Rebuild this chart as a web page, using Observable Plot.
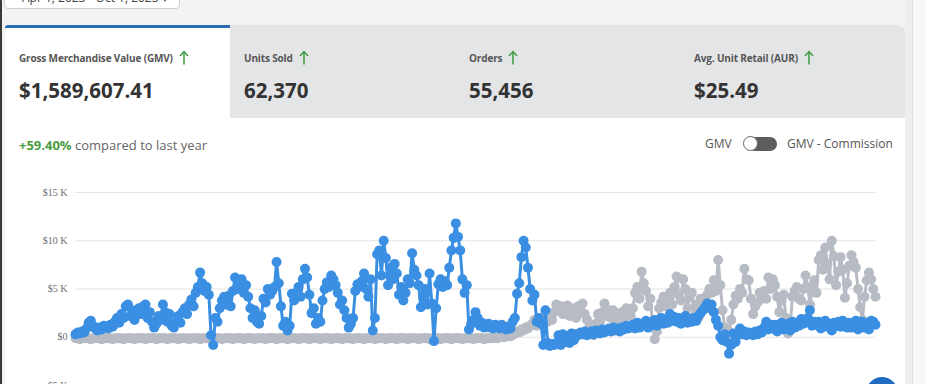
<!DOCTYPE html>
<html><head><meta charset="utf-8">
<script src="https://cdn.jsdelivr.net/npm/d3@7"></script>
<script src="https://cdn.jsdelivr.net/npm/@observablehq/plot@0.6"></script>
<style>
html,body{margin:0;padding:0;width:926px;height:384px;overflow:hidden;background:#f3f3f4;font-family:"Open Sans",sans-serif;}
#root{position:relative;width:926px;height:384px;overflow:hidden;}
.abs{position:absolute;white-space:nowrap;line-height:1;}
.lbl{font-size:10px;font-weight:700;color:#565656;letter-spacing:-0.15px;}
.val{font-size:20.5px;font-weight:700;color:#333;}
.arr{display:inline-block;vertical-align:-3px;margin-left:6px;}
#chart svg{position:absolute;left:0;top:170px;}
</style></head><body>
<div id="root">
  <div class="abs" style="left:0;top:0;width:2px;height:384px;background:#3a3a3a"></div>
  <div class="abs" style="left:4px;top:-12px;width:174px;height:19px;border:1px solid #d0d0d0;border-radius:4px;background:#fff"></div>
  <div class="abs" style="left:22px;top:-8px;font-size:12px;color:#444">Apr 1, 2023 - Oct 1, 2023 ▾</div>

  <div class="abs" style="left:5px;top:25px;width:900px;height:380px;background:#fff;border-radius:8px 8px 0 0"></div>
  <div class="abs" style="left:230px;top:25px;width:675px;height:93px;background:#e4e5e7;border-radius:0 8px 0 0"></div>
  <div class="abs" style="left:5px;top:25px;width:225px;height:3px;background:#2a6db5;border-radius:8px 0 0 0"></div>
  <div class="abs" style="left:905px;top:0;width:21px;height:384px;background:#eeeeef"></div>
  <div class="abs" style="left:912px;top:0;width:14px;height:384px;background:#f8f8f8;border-left:1px solid #e2e2e2"></div>

  <div id="tabs"></div>

  <div class="abs" style="left:19px;top:139px;font-size:13px;color:#666"><span style="color:#4b9b3f;font-weight:700">+59.40%</span> compared to last year</div>

  <div class="abs" style="left:705px;top:138px;font-size:12px;color:#555">GMV</div>
  <div class="abs" style="left:748px;top:137px;width:29px;height:14px;background:#5d5d5f;border-radius:7px"></div>
  <div class="abs" style="left:743px;top:136px;width:13px;height:13px;background:#fff;border:1.5px solid #666;border-radius:50%"></div>
  <div class="abs" style="left:787px;top:138px;font-size:12px;color:#555">GMV - Commission</div>

  <div id="chart"></div>
  <div class="abs" style="left:866px;top:377px;width:32px;height:32px;background:#1d6cc2;border-radius:50%"></div>
</div>
<script>
// KPI tabs
const tabLabels = ["Gross Merchandise Value (GMV)", "Units Sold", "Orders", "Avg. Unit Retail (AUR)"];
const tabValues = ["$1,589,607.41", "62,370", "55,456", "$25.49"];

// y axis
const yTicks = [-5000, 0, 5000, 10000, 15000];
const yTickLabels = ["-$5 K", "$0", "$5 K", "$10 K", "$15 K"];

// GMV, thousands of dollars (current period, blue)
const currentK = [
 0.3,0.5,0.4,0.6,0.5, 0.9,1.5,1.7,1.2,0.9,
 0.7,1.0,0.8,1.2,1.1, 0.9,1.3,1.1,1.6,2.0,
 1.5,2.4,2.0,3.2,3.4, 2.2,2.8,1.8,2.6,3.0,
 2.4,3.2,3.4,2.0,2.6, 1.6,1.0,1.4,2.2,1.8,
 3.4,2.6,1.6,2.4,1.2, 1.0,1.6,2.2,1.5,2.6,
 3.0,2.4,3.4,3.9,3.2, 4.6,5.2,6.7,5.6,4.8,
 5.2,4.4,0.2,-0.8,2.0, 1.6,3.0,3.8,4.2,3.4,
 4.3,3.2,4.8,6.2,5.0, 5.8,6.0,4.6,5.4,4.2,
 3.0,2.0,2.8,1.6,1.4, 2.2,4.0,3.6,5.0,4.4,
 4.8,5.2,7.8,5.6,3.2, 1.2,1.6,0.7,1.2,4.5,
 3.8,4.6,5.2,4.2,6.0, 7.1,6.2,4.4,2.5,3.0,
 1.4,2.0,1.6,3.8,5.0, 5.7,5.2,6.4,6.0,5.4,
 4.6,3.4,3.8,2.8,2.0, 1.0,1.4,2.0,4.8,5.5,
 5.2,5.8,6.6,5.0,4.2, 6.0,0.7,2.0,8.6,9.0,
 6.4,10.0,8.2,5.4,7.2, 6.0,7.6,6.6,4.4,5.2,
 3.8,4.6,6.0,5.6,8.7, 7.0,6.4,5.4,3.1,4.2,
 5.0,3.4,6.6,3.5,-0.4, 3.0,5.5,6.0,5.2,5.8,
 5.4,7.2,9.0,10.3,11.8, 10.4,9.0,6.0,4.6,5.4,
 0.8,1.4,1.8,2.6,2.0, 1.2,1.5,1.0,1.3,1.4,
 1.0,0.9,1.3,1.2,0.9, 1.3,1.0,0.8,1.1,0.9,
 1.6,2.0,4.5,5.6,8.3, 10.0,9.3,7.2,5.0,3.8,
 4.4,1.6,2.0,1.4,-0.8, 2.8,-0.6,-0.9,-0.7,-0.8,
 -0.6,0.2,-0.8,0.3,-0.5, 0.1,-0.6,0.4,-0.3,0.3,
 0.2,0.5,0.3,0.6,0.2, 0.4,0.6,0.3,0.7,0.5,
 0.4,0.8,0.5,0.7,0.9, 0.6,1.0,0.7,0.9,0.6,
 1.0,0.8,1.2,0.9,1.1, 1.3,0.9,1.5,1.0,1.4,
 1.2,1.7,1.0,1.5,1.3, 1.8,1.2,1.6,2.0,1.4,
 1.9,1.5,2.4,1.7,2.1, 1.6,2.0,1.4,1.8,2.2,
 1.5,1.9,1.6,2.0,1.7, 2.2,2.5,2.8,3.1,3.5,
 3.0,3.4,2.6,1.8,1.2, 0.0,-0.3,0.3,-0.5,-1.7,
 -0.8,0.4,-0.5,0.2,0.9, 0.3,0.6,0.2,0.5,0.4,
 0.2,0.6,0.3,0.7,0.5, 1.0,1.6,0.8,1.3,0.9,
 1.3,0.6,1.1,1.5,0.8, 1.2,1.4,0.7,1.6,1.0,
 1.5,1.2,1.9,1.4,1.8, 2.0,2.8,1.2,1.6,1.3,
 1.6,0.9,1.4,1.7,1.1, 1.4,0.7,1.5,1.2,1.6,
 1.1,1.7,1.3,1.0,1.5, 1.0,1.4,1.7,0.8,1.2,
 1.6,1.0,1.4,0.8,1.7,1.6,1.3];

// comparison series, thousands of dollars (grey)
const comparisonK = [
 -0.1,-0.1,-0.2,-0.1,-0.1,-0.1,-0.1,-0.2,-0.1,-0.1,
 -0.1,-0.1,-0.2,-0.1,-0.1,-0.1,-0.1,-0.2,-0.1,-0.1,
 -0.1,-0.1,-0.2,-0.1,-0.1,-0.1,-0.1,-0.2,-0.1,-0.1,
 -0.1,-0.1,-0.2,-0.1,-0.1,-0.1,-0.1,-0.2,-0.1,-0.1,
 -0.1,-0.1,-0.2,-0.1,-0.1,-0.1,-0.1,-0.2,-0.1,-0.1,
 -0.1,-0.1,-0.2,-0.1,-0.1,-0.1,-0.1,-0.2,-0.1,-0.1,
 -0.1,-0.1,-0.2,-0.1,-0.1,-0.1,-0.1,-0.2,-0.1,-0.1,
 -0.1,-0.1,-0.2,-0.1,-0.1,-0.1,-0.1,-0.2,-0.1,-0.1,
 -0.1,-0.1,-0.2,-0.1,-0.1,-0.1,-0.1,-0.2,-0.1,-0.1,
 -0.1,-0.1,-0.2,-0.1,-0.1,-0.1,-0.1,-0.2,-0.1,-0.1,
 -0.1,-0.1,-0.2,-0.1,-0.1,-0.1,-0.1,-0.2,-0.1,-0.1,
 -0.1,-0.1,-0.2,-0.1,-0.1,-0.1,-0.1,-0.2,-0.1,-0.1,
 -0.1,-0.1,-0.2,-0.1,-0.1,-0.1,-0.1,-0.2,-0.1,-0.1,
 -0.1,-0.1,-0.2,-0.1,-0.1,-0.1,-0.1,-0.2,-0.1,-0.1,
 -0.1,-0.1,-0.2,-0.1,-0.1,-0.1,-0.1,-0.2,-0.1,-0.1,
 -0.1,-0.1,-0.2,-0.1,-0.1,-0.1,-0.1,-0.2,-0.1,-0.1,
 -0.1,-0.1,-0.2,-0.1,-0.1,-0.1,-0.1,-0.2,-0.1,-0.1,
 -0.1,-0.1,-0.2,-0.1,-0.1,-0.1,-0.1,-0.2,-0.1,-0.1,
 -0.1,-0.1,-0.2,-0.1,-0.1,-0.1,-0.1,-0.2,-0.1,-0.1,
 -0.1,-0.1,0.0,-0.1,0.0,0.1,0.0,0.1,0.2,0.1,
 0.2,0.4,0.6,0.5,0.8, 0.7,1.0,0.9,1.2,1.4,
 1.8,1.2,1.6,2.0,1.4, 2.0,1.6,2.4,1.8,2.6,
 3.4,2.8,3.2,2.4,3.0, 3.3,2.2,2.8,3.0,2.0,
 3.2,2.6,3.5,2.4,1.8, 1.0,0.4,0.2,1.4,2.4,
 1.6,2.6,3.5,2.2,2.8, 2.0,2.8,2.2,1.8,2.4,
 2.6,2.0,3.0,2.6,2.2, 3.0,4.6,5.2,4.0,6.8,
 5.6,4.8,3.2,4.0,1.4, -0.2,0.6,3.0,3.6,4.2,
 3.2,3.8,4.6,3.4,5.2, 6.3,4.4,3.8,6.0,5.0,
 3.0,4.2,4.6,2.2,3.4, 2.0,4.0,3.4,3.6,4.4,
 5.0,4.6,5.9,4.8,8.0, 5.4,2.8,1.0,0.3,0.6,
 1.8,3.4,4.3,4.0,5.0, 4.6,7.1,6.0,5.9,4.0,
 2.4,3.2,3.6,4.6,4.0, 4.8,4.0,6.2,5.0,6.0,
 5.4,4.2,2.6,3.8,4.4, 2.0,0.4,1.2,4.2,4.8,
 5.2,4.0,3.8,5.0,6.4, 5.2,3.4,4.8,5.9,4.6,
 8.0,8.5,7.0,9.3,7.6, 6.0,10.0,8.4,5.4,6.8,
 8.3,7.0,4.1,5.6,7.4, 8.5,7.8,7.2,5.0,3.1,
 1.8,4.2,5.9,6.7,6.0,5.0,4.2];

const blue = "#3a8fe3";
const grey = "#b7bbc4";

// tabs
const tabX = [19, 244, 469, 694];
const arrowSvg = '<svg class="arr" width="10" height="15" viewBox="0 0 10 15"><path d="M5 14.5V2M1 6L5 1.6L9 6" stroke="#3f9b3f" stroke-width="1.5" fill="none"/></svg>';
const tabs = document.getElementById("tabs");
tabLabels.forEach((l, k) => {
  const a = document.createElement("div");
  a.className = "abs lbl"; a.style.left = tabX[k] + "px"; a.style.top = "50px";
  a.innerHTML = l + arrowSvg;
  tabs.appendChild(a);
  const b = document.createElement("div");
  b.className = "abs val"; b.style.left = tabX[k] + "px"; b.style.top = "80px";
  b.textContent = tabValues[k];
  tabs.appendChild(b);
});

const cur = currentK.map((v, i) => ({i, v: v * 1000}));
const cmp = comparisonK.map((v, i) => ({i, v: v * 1000}));
const n = Math.max(currentK.length, comparisonK.length);

const chart = Plot.plot({
  width: 926, height: 230,
  marginLeft: 75, marginRight: 51, marginTop: 22, marginBottom: 15,
  style: {background: "transparent", fontFamily: "'Liberation Serif', serif", fontSize: "10px", overflow: "visible"},
  x: {domain: [0, n - 1], axis: null},
  y: {domain: [-5000, 15000], axis: null},
  marks: [
    Plot.gridY(yTicks, {stroke: "#e4e4e4", strokeOpacity: 1, strokeWidth: 1}),
    Plot.axisY(yTicks, {tickSize: 0, tickPadding: 8, label: null, fill: "#6f6f6f",
      tickFormat: d => yTickLabels[yTicks.indexOf(d)]}),
    Plot.lineY(cmp, {x: "i", y: "v", stroke: grey, strokeWidth: 3}),
    Plot.dot(cmp, {x: "i", y: "v", r: 5, fill: grey}),
    Plot.lineY(cur, {x: "i", y: "v", stroke: blue, strokeWidth: 3}),
    Plot.dot(cur, {x: "i", y: "v", r: 5, fill: blue})
  ]
});
document.getElementById("chart").appendChild(chart);
</script>
</body></html>
